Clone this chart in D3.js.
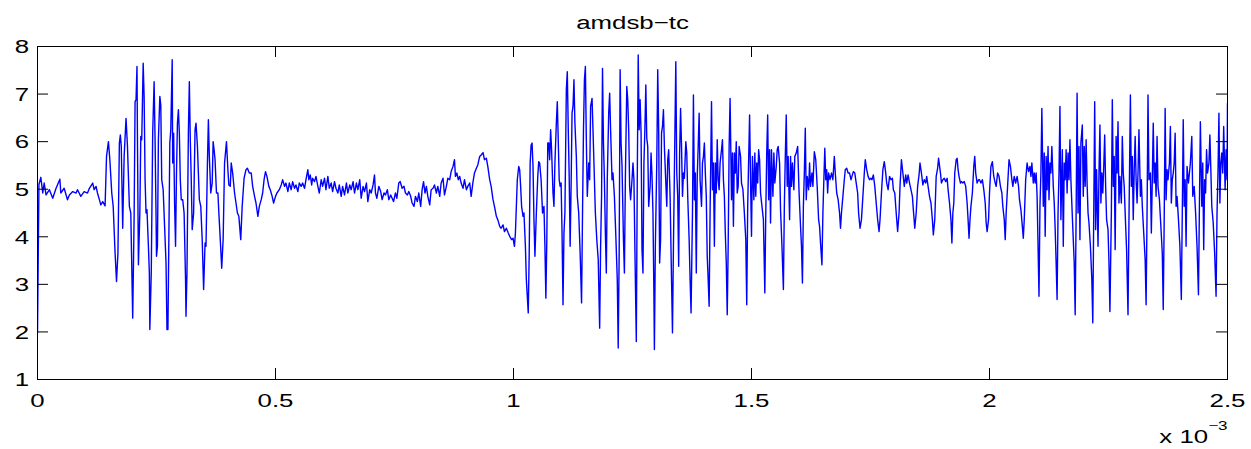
<!DOCTYPE html>
<html>
<head>
<meta charset="utf-8">
<script src="https://cdn.jsdelivr.net/npm/d3@7"></script>
<style>
  body { margin: 0; background: #fff; }
  svg { display: block; font-family: "Liberation Sans", Arial, Helvetica, sans-serif; }
  .tick line { stroke: #000; stroke-width: 1; }
</style>
</head>
<body>
<svg id="chart" width="1251" height="449"></svg>
<script>

/*    ========    DATA    =========    */

// time in units of 1e-3 s, amplitude
// onset burst and the quiet stretch before 0.63
var segOnset = [[0,1.98],[0.003,5.10],[0.007,5.25],[0.011,4.92],[0.014,5.13],[0.018,4.88],[0.025,4.99],[0.032,4.81],[0.039,5.02],[0.047,5.21],[0.049,4.92],[0.056,5.02],[0.063,4.78],[0.067,4.88],[0.074,4.95],[0.081,4.92],[0.084,4.99],[0.091,4.85],[0.098,4.95],[0.105,4.92],[0.109,5.02],[0.116,5.13],[0.119,4.99],[0.123,5.06],[0.126,4.92],[0.130,4.78],[0.133,4.67],[0.137,4.74],[0.142,4.65],[0.145,5.69],[0.149,6.00],[0.152,5.62],[0.156,4.92],[0.159,4.64],[0.163,3.66],[0.166,3.06],[0.169,3.66],[0.172,5.97],[0.174,6.14],[0.176,5.90],[0.179,4.18],[0.182,5.69],[0.186,6.49],[0.189,5.90],[0.193,4.64],[0.196,4.50],[0.200,2.29],[0.203,4.43],[0.205,6.84],[0.207,6.88],[0.209,7.58],[0.210,6.04],[0.212,3.41],[0.215,4.50],[0.217,6.11],[0.219,6.04],[0.222,7.65],[0.224,6.95],[0.226,5.20],[0.228,4.50],[0.230,4.57],[0.233,3.80],[0.235,3.24],[0.236,2.05],[0.239,3.24],[0.242,6.18],[0.245,7.26],[0.247,6.04],[0.249,4.50],[0.250,3.59],[0.252,3.80],[0.254,6.04],[0.257,6.95],[0.259,6.77],[0.261,5.20],[0.264,4.99],[0.267,4.22],[0.270,3.45],[0.272,2.05],[0.274,2.05],[0.276,4.01],[0.278,5.97],[0.280,6.25],[0.283,7.72],[0.284,5.55],[0.286,6.18],[0.288,4.71],[0.290,3.80],[0.292,5.34],[0.294,6.39],[0.296,6.67],[0.298,6.18],[0.300,5.20],[0.302,4.78],[0.305,4.78],[0.308,4.50],[0.311,3.10],[0.312,2.33],[0.314,3.24],[0.317,6.21],[0.319,7.26],[0.321,6.04],[0.323,5.20],[0.325,4.15],[0.328,4.50],[0.331,6.25],[0.333,6.39],[0.336,5.90],[0.340,4.78],[0.343,4.64],[0.346,3.94],[0.349,2.89],[0.352,3.87],[0.354,3.80],[0.357,5.55],[0.359,6.46],[0.361,5.69],[0.364,4.92],[0.367,5.13],[0.369,6.00],[0.371,5.83],[0.373,5.62],[0.376,4.92],[0.379,4.92],[0.381,4.50],[0.384,3.94],[0.387,3.34],[0.390,3.94],[0.393,5.55],[0.397,6.00],[0.400,5.41],[0.402,5.09],[0.405,5.06],[0.407,5.55],[0.410,5.34],[0.414,4.92],[0.417,4.71],[0.420,4.50],[0.423,4.43],[0.427,3.94],[0.430,4.64],[0.434,5.23],[0.438,5.41],[0.441,5.44],[0.445,5.34],[0.449,5.34],[0.452,5.06],[0.456,4.85],[0.459,4.71],[0.463,4.43],[0.466,4.64],[0.470,4.78],[0.473,4.92],[0.476,5.20],[0.479,5.37],[0.482,5.27],[0.486,5.06],[0.489,4.99],[0.493,4.85],[0.496,4.71],[0.500,4.85],[0.503,4.92],[0.508,4.99],[0.512,5.09],[0.515,5.20],[0.519,5.06],[0.522,5.13],[0.526,4.95],[0.529,5.13],[0.533,4.99],[0.536,5.16],[0.540,5.02],[0.543,5.09],[0.547,4.95],[0.550,5.13],[0.554,5.06],[0.557,5.13],[0.561,5.02],[0.564,5.20],[0.568,5.41],[0.570,5.20],[0.573,5.30],[0.576,5.09],[0.578,5.23],[0.582,5.16],[0.585,5.27],[0.589,5.06],[0.592,4.92],[0.596,5.20],[0.599,5.06],[0.603,5.23],[0.606,4.99],[0.610,5.27],[0.613,5.02],[0.617,5.13],[0.620,4.95],[0.624,5.16],[0.627,5.02]];

// quiet stretch, drift up to ~5.8, drop near 1.0, then strong voicing
var segRise = [[0.631,4.92],[0.634,5.09],[0.638,4.85],[0.641,5.06],[0.645,4.88],[0.649,5.13],[0.652,4.92],[0.656,5.09],[0.659,4.99],[0.663,5.16],[0.666,4.92],[0.670,5.13],[0.673,4.99],[0.677,5.20],[0.680,4.81],[0.684,5.06],[0.687,4.95],[0.691,5.13],[0.694,4.74],[0.698,4.99],[0.701,4.92],[0.705,5.09],[0.708,5.30],[0.710,4.92],[0.713,4.81],[0.717,5.06],[0.721,4.95],[0.724,4.78],[0.728,4.92],[0.731,4.88],[0.735,4.99],[0.738,4.78],[0.742,4.88],[0.745,4.81],[0.748,4.74],[0.752,4.92],[0.755,4.81],[0.759,5.13],[0.762,5.16],[0.766,5.02],[0.770,5.06],[0.773,4.92],[0.777,4.88],[0.780,4.95],[0.784,4.85],[0.787,4.71],[0.791,4.64],[0.794,4.85],[0.798,4.74],[0.801,4.92],[0.805,4.64],[0.808,4.99],[0.811,5.16],[0.814,4.92],[0.817,5.06],[0.820,4.85],[0.824,4.67],[0.827,4.99],[0.831,5.02],[0.834,5.09],[0.838,4.92],[0.841,5.06],[0.845,4.85],[0.848,5.13],[0.852,5.23],[0.855,4.88],[0.859,5.06],[0.862,5.23],[0.866,5.20],[0.869,5.37],[0.873,5.48],[0.876,5.62],[0.878,5.27],[0.881,5.34],[0.884,5.20],[0.887,5.27],[0.890,5.13],[0.894,5.02],[0.897,5.20],[0.901,4.99],[0.904,5.06],[0.908,5.13],[0.911,4.85],[0.915,5.16],[0.918,5.34],[0.922,5.44],[0.925,5.51],[0.929,5.69],[0.932,5.72],[0.936,5.77],[0.939,5.62],[0.943,5.65],[0.946,5.48],[0.950,5.20],[0.953,5.06],[0.957,4.78],[0.960,4.64],[0.964,4.43],[0.967,4.36],[0.971,4.22],[0.974,4.18],[0.978,4.25],[0.981,4.11],[0.985,4.18],[0.989,4.08],[0.992,4.01],[0.996,3.94],[0.999,3.97],[1.002,3.80],[1.004,4.08],[1.006,4.64],[1.008,5.20],[1.011,5.48],[1.013,5.41],[1.015,5.06],[1.017,4.64],[1.020,4.43],[1.022,4.50],[1.025,3.80],[1.027,3.10],[1.031,2.40],[1.033,3.66],[1.035,5.55],[1.037,5.93],[1.039,5.97],[1.041,5.48],[1.043,4.36],[1.045,3.59],[1.048,4.50],[1.051,5.27],[1.053,5.58],[1.055,5.55],[1.058,5.20],[1.061,4.50],[1.064,4.64],[1.066,3.80],[1.068,2.71],[1.070,3.94],[1.072,5.97],[1.074,5.97],[1.076,5.62],[1.078,6.25],[1.080,5.83],[1.083,4.92],[1.085,4.64],[1.087,5.55],[1.090,6.39],[1.092,6.84],[1.094,6.04],[1.096,5.20],[1.098,5.06],[1.100,5.13],[1.102,4.08],[1.104,2.57],[1.106,4.08],[1.108,4.50],[1.111,7.09],[1.113,7.47],[1.115,6.28],[1.117,5.27],[1.119,3.80],[1.121,5.06],[1.123,6.60],[1.125,6.74],[1.127,7.30],[1.129,6.39],[1.132,5.69],[1.134,4.85],[1.137,4.50],[1.140,3.66],[1.143,2.61],[1.145,4.50],[1.147,6.25],[1.149,7.30],[1.151,7.58],[1.153,6.04],[1.155,4.85],[1.158,5.55],[1.160,5.20],[1.162,6.74],[1.165,6.91],[1.167,6.25],[1.169,5.55],[1.172,4.50],[1.175,3.94],[1.178,3.52],[1.181,2.08],[1.183,3.80],[1.185,4.85],[1.187,7.54],[1.189,5.97],[1.191,5.20],[1.193,4.08],[1.195,3.24],[1.197,5.20],[1.200,6.60],[1.202,7.02],[1.204,6.25],[1.207,5.20],[1.209,5.34],[1.212,4.85],[1.215,4.01],[1.218,3.10],[1.220,1.66],[1.222,3.66],[1.224,7.51],[1.226,5.97],[1.228,5.48],[1.231,3.94],[1.233,3.24],[1.235,5.20],[1.238,7.16],[1.240,6.88],[1.242,6.25],[1.244,5.06],[1.246,4.78],[1.249,5.20],[1.251,5.55],[1.253,5.20],[1.256,3.10],[1.258,1.80],[1.260,5.20],[1.262,7.82]];

// strong voicing decaying into the regular ~5 pattern
var segDecay = [[1.264,6.25],[1.266,6.88],[1.268,6.18],[1.270,3.73],[1.272,3.24],[1.274,5.55],[1.276,6.25],[1.278,7.19],[1.280,6.07],[1.282,5.90],[1.284,4.64],[1.287,5.06],[1.289,5.76],[1.291,5.27],[1.293,4.50],[1.295,2.75],[1.296,1.63],[1.298,3.80],[1.301,5.55],[1.303,7.51],[1.305,6.25],[1.307,3.45],[1.309,3.94],[1.311,6.18],[1.313,6.32],[1.315,6.67],[1.317,5.90],[1.320,5.13],[1.322,4.64],[1.324,5.62],[1.326,5.83],[1.329,4.85],[1.331,3.66],[1.334,1.98],[1.336,3.80],[1.338,5.34],[1.341,7.68],[1.343,5.34],[1.345,4.85],[1.347,3.38],[1.349,5.76],[1.351,6.70],[1.353,5.90],[1.355,4.85],[1.357,5.34],[1.359,5.23],[1.362,6.00],[1.364,5.76],[1.366,4.85],[1.369,3.94],[1.371,3.10],[1.373,2.40],[1.376,4.50],[1.378,6.98],[1.380,4.78],[1.382,5.34],[1.384,3.24],[1.386,5.27],[1.388,5.90],[1.390,6.60],[1.392,5.20],[1.395,4.64],[1.397,5.55],[1.399,5.69],[1.401,5.97],[1.403,5.34],[1.405,4.85],[1.407,3.59],[1.409,3.10],[1.411,2.54],[1.413,4.50],[1.416,6.84],[1.418,4.99],[1.420,5.55],[1.422,3.80],[1.424,5.55],[1.426,4.92],[1.428,6.04],[1.430,5.20],[1.432,4.99],[1.434,5.55],[1.437,5.83],[1.439,6.04],[1.441,5.20],[1.443,4.85],[1.445,4.08],[1.447,3.45],[1.449,2.36],[1.451,3.80],[1.453,5.90],[1.455,6.91],[1.458,4.78],[1.460,5.76],[1.462,4.22],[1.464,5.76],[1.466,5.34],[1.468,6.00],[1.470,4.92],[1.472,5.06],[1.474,5.90],[1.477,5.69],[1.479,5.13],[1.482,4.99],[1.485,4.50],[1.488,3.94],[1.490,2.57],[1.492,4.64],[1.494,5.62],[1.496,6.56],[1.498,5.20],[1.500,4.01],[1.502,5.69],[1.505,4.78],[1.507,5.76],[1.509,4.85],[1.511,5.55],[1.513,5.13],[1.515,5.83],[1.517,5.62],[1.519,4.92],[1.522,4.64],[1.525,4.36],[1.528,2.82],[1.530,4.50],[1.532,5.76],[1.534,6.56],[1.536,4.78],[1.538,5.83],[1.540,4.29],[1.542,5.83],[1.545,4.85],[1.547,5.76],[1.549,5.13],[1.552,5.48],[1.554,5.83],[1.556,5.90],[1.559,5.55],[1.561,4.57],[1.564,3.80],[1.567,2.89],[1.569,4.64],[1.571,5.69],[1.573,6.56],[1.575,5.06],[1.577,5.69],[1.580,4.36],[1.582,5.69],[1.584,5.06],[1.586,5.55],[1.589,4.99],[1.591,5.69],[1.594,5.76],[1.597,5.90],[1.600,4.92],[1.603,4.22],[1.605,3.80],[1.607,3.03],[1.609,4.64],[1.611,5.34],[1.613,6.28],[1.615,4.78],[1.617,5.27],[1.620,4.99],[1.622,5.55],[1.624,5.06],[1.627,5.34],[1.629,5.06],[1.632,5.79],[1.635,5.62],[1.638,5.06],[1.641,4.36],[1.643,4.22],[1.645,3.87],[1.648,3.41],[1.650,4.50],[1.652,5.20],[1.654,5.86],[1.656,5.20],[1.658,5.41],[1.660,4.92],[1.662,5.34],[1.665,5.20],[1.668,5.34],[1.671,5.20],[1.674,5.69],[1.676,5.34],[1.679,4.92],[1.682,4.78],[1.685,4.50],[1.687,4.18],[1.689,4.50],[1.692,4.85],[1.695,5.20],[1.697,5.41],[1.700,5.44],[1.703,5.34],[1.706,5.34],[1.709,5.20],[1.711,5.27],[1.714,5.37],[1.717,5.34],[1.720,5.13],[1.723,4.92],[1.725,4.50],[1.728,4.18],[1.731,4.36],[1.734,4.85],[1.737,5.34],[1.739,5.62],[1.742,5.41],[1.745,5.27],[1.748,5.20],[1.751,5.23],[1.753,5.20],[1.756,5.30],[1.759,5.06],[1.762,4.71],[1.765,4.36],[1.768,4.11],[1.770,4.36],[1.773,4.92],[1.776,5.41],[1.779,5.58],[1.782,5.34],[1.784,5.13],[1.787,4.99],[1.790,5.27],[1.793,5.20],[1.796,5.23],[1.798,4.99],[1.801,4.92],[1.804,4.50],[1.807,4.11],[1.810,4.50],[1.812,5.06],[1.815,5.62],[1.818,5.34],[1.821,5.06],[1.824,5.30],[1.826,5.13],[1.829,5.30],[1.832,5.13],[1.835,4.99],[1.838,4.85],[1.840,4.57],[1.843,4.18],[1.846,4.50],[1.849,5.06],[1.852,5.30],[1.854,5.55],[1.857,5.34],[1.860,5.09],[1.863,5.20],[1.866,5.13],[1.868,5.27],[1.871,5.06],[1.874,4.85],[1.877,4.71],[1.880,4.36],[1.882,4.04],[1.885,4.36],[1.888,5.27],[1.891,5.44]];

// regular pattern, then the final noisy burst after 2.1
var segTail = [[1.893,5.65],[1.897,5.34],[1.899,5.13],[1.902,5.20],[1.905,5.23],[1.908,5.16],[1.911,5.23],[1.913,4.99],[1.916,4.71],[1.919,4.36],[1.921,3.87],[1.923,4.50],[1.925,4.71],[1.927,5.34],[1.930,5.62],[1.932,5.65],[1.934,5.41],[1.936,5.27],[1.939,5.13],[1.941,5.16],[1.944,5.13],[1.947,5.16],[1.950,5.06],[1.953,4.71],[1.955,4.36],[1.957,3.97],[1.959,4.36],[1.961,4.64],[1.964,4.92],[1.967,5.48],[1.969,5.69],[1.971,5.34],[1.974,5.13],[1.977,5.20],[1.979,5.20],[1.982,5.13],[1.985,5.20],[1.988,4.99],[1.991,4.71],[1.993,4.29],[1.995,4.11],[1.998,4.36],[2.000,4.92],[2.003,5.48],[2.006,5.58],[2.009,5.27],[2.012,5.13],[2.014,5.06],[2.017,5.34],[2.020,5.27],[2.023,5.06],[2.026,4.92],[2.028,4.64],[2.031,4.36],[2.033,3.94],[2.035,4.50],[2.038,5.06],[2.041,5.62],[2.044,5.48],[2.047,5.20],[2.049,5.06],[2.052,5.27],[2.055,5.13],[2.058,5.27],[2.061,5.06],[2.063,4.78],[2.066,4.57],[2.069,4.22],[2.071,3.97],[2.073,4.36],[2.076,5.20],[2.079,5.55],[2.082,5.37],[2.085,5.48],[2.087,5.27],[2.089,5.55],[2.092,5.13],[2.094,5.34],[2.096,5.13],[2.098,5.34],[2.100,4.85],[2.102,3.80],[2.104,2.75],[2.106,4.64],[2.108,5.34],[2.110,6.70],[2.113,4.64],[2.115,5.76],[2.117,4.01],[2.119,5.69],[2.121,4.99],[2.123,5.90],[2.125,4.78],[2.127,5.55],[2.129,5.34],[2.131,5.90],[2.134,5.06],[2.136,4.71],[2.138,4.15],[2.140,3.45],[2.142,2.68],[2.144,4.50],[2.146,5.34],[2.148,6.74],[2.150,4.36],[2.153,5.83],[2.155,3.80],[2.157,5.55],[2.159,5.20],[2.161,5.83],[2.163,4.92],[2.165,5.76],[2.167,5.20],[2.169,6.04],[2.171,5.20],[2.174,4.43],[2.176,3.94],[2.178,3.45],[2.180,2.36],[2.182,4.50],[2.184,7.02],[2.186,4.50],[2.188,5.90],[2.190,3.94],[2.192,5.97],[2.195,6.35],[2.197,4.85],[2.199,5.90],[2.201,5.06],[2.203,6.04],[2.205,5.13],[2.207,4.50],[2.209,4.29],[2.212,3.80],[2.215,3.10],[2.217,2.19],[2.219,4.50],[2.221,6.84],[2.223,4.15],[2.225,5.41],[2.228,3.80],[2.230,5.34],[2.232,6.35],[2.234,4.71],[2.236,5.34],[2.238,4.92],[2.240,5.48],[2.242,6.14],[2.244,5.06],[2.246,4.36],[2.249,4.15],[2.251,3.45],[2.253,2.43],[2.256,4.50],[2.258,6.88],[2.260,5.06],[2.262,5.69],[2.264,3.73],[2.266,6.11],[2.268,5.34],[2.270,6.42],[2.272,4.71],[2.274,5.27],[2.277,4.71],[2.279,6.11],[2.281,5.34],[2.283,5.06],[2.285,4.50],[2.288,3.73],[2.291,2.36],[2.293,4.36],[2.296,6.98],[2.298,5.06],[2.300,5.69],[2.302,4.36],[2.304,5.41],[2.306,6.11],[2.308,5.20],[2.310,4.71],[2.312,5.34],[2.314,6.25],[2.317,4.85],[2.319,5.20],[2.321,4.64],[2.324,4.08],[2.327,3.52],[2.329,2.57],[2.331,4.50],[2.333,6.98],[2.335,5.20],[2.338,5.34],[2.340,4.08],[2.342,5.20],[2.344,6.39],[2.346,5.13],[2.348,5.55],[2.350,4.85],[2.352,6.11],[2.354,5.06],[2.357,4.78],[2.360,4.22],[2.363,3.66],[2.365,2.47],[2.367,4.36],[2.369,6.70],[2.371,4.78],[2.373,5.41],[2.375,5.20],[2.378,5.55],[2.380,6.32],[2.382,4.71],[2.384,5.20],[2.386,5.34],[2.388,5.55],[2.390,6.18],[2.392,4.64],[2.394,4.85],[2.397,4.36],[2.400,3.80],[2.403,2.68],[2.405,4.50],[2.407,6.46],[2.409,4.64],[2.411,5.20],[2.413,3.80],[2.415,5.48],[2.418,5.13],[2.420,5.34],[2.422,5.55],[2.425,6.11],[2.427,4.85],[2.430,5.06],[2.433,4.50],[2.436,3.80],[2.439,2.78],[2.441,4.64],[2.443,6.42],[2.446,4.64],[2.448,5.55],[2.450,3.73],[2.452,5.20],[2.454,4.92],[2.456,5.83],[2.458,5.34],[2.461,5.55],[2.463,6.14],[2.465,5.41],[2.467,4.64],[2.470,4.29],[2.473,3.66],[2.476,2.75],[2.478,4.50],[2.480,5.34],[2.482,6.60],[2.484,4.71],[2.486,5.55],[2.488,5.76],[2.490,5.34],[2.492,6.32],[2.495,4.99],[2.497,5.83],[2.499,5.20],[2.500,6.81]];

var X_RANGE = [0, 2.5];          // x 10^-3
var Y_RANGE = [1, 8];
var X_TICKS = [0, 0.5, 1, 1.5, 2, 2.5];
var Y_TICKS = [1, 2, 3, 4, 5, 6, 7, 8];
var TITLE = "amdsb\u2212tc";

/*    ========    SETTINGS    =========    */

var svg = d3.select('#chart');

var PLOT_LEFT = 37, PLOT_TOP = 46;
var plotW = 1190, plotH = 333;
var TICK_LEN = 11;
var FONT_SIZE = 19;
var STRETCH = 1.36;   // the original figure was stretched sideways

var series = segOnset.concat(segRise, segDecay, segTail);

/*    ========    PLOT    =========    */

svg.append("rect")
    .attr("width", 1251).attr("height", 449)
    .attr("fill", "#fff");

var scale_x = d3.scaleLinear().domain(X_RANGE).range([0, plotW]);
var scale_y = d3.scaleLinear().domain(Y_RANGE).range([plotH, 0]);

var plot = svg.append("g")
    .attr("transform", "translate(" + PLOT_LEFT + "," + PLOT_TOP + ")");

svg.append("defs").append("clipPath")
    .attr("id", "mask")
    .append("rect")
    .attr("x", 0).attr("y", 0)
    .attr("width", plotW + 1).attr("height", plotH + 1);

// the trace
var line = d3.line()
    .x(function(d) { return scale_x(d[0]) + 0.5; })
    .y(function(d) { return scale_y(d[1]) + 0.5; });

plot.append("path")
    .datum(series)
    .attr("clip-path", "url(#mask)")
    .attr("fill", "none")
    .attr("stroke", "#0000ff")
    .attr("stroke-width", 1.4)
    .attr("stroke-linejoin", "round")
    .attr("d", line);

// == Axes, ticks pointing inward on all four sides == //
function tickAxis(axis) {
    return axis.tickSizeInner(-TICK_LEN).tickSizeOuter(0);
}

var gBottom = plot.append("g")
    .attr("transform", "translate(0," + plotH + ")")
    .call(tickAxis(d3.axisBottom(scale_x)).tickValues(X_TICKS).tickFormat(d3.format("~g")));

var gTop = plot.append("g")
    .call(tickAxis(d3.axisTop(scale_x)).tickValues(X_TICKS).tickFormat(""));

var gLeft = plot.append("g")
    .call(tickAxis(d3.axisLeft(scale_y)).tickValues(Y_TICKS).tickFormat(d3.format("d")));

var gRight = plot.append("g")
    .attr("transform", "translate(" + plotW + ",0)")
    .call(tickAxis(d3.axisRight(scale_y)).tickValues(Y_TICKS).tickFormat(""));

[gBottom, gTop, gLeft, gRight].forEach(function(g) {
    g.select(".domain").remove();
    g.attr("font-family", null).attr("font-size", null);
});

gBottom.selectAll("text")
    .attr("y", 28).attr("dy", null)
    .attr("fill", "#000")
    .style("font-size", FONT_SIZE + "px")
    .attr("transform", "scale(" + STRETCH + ",1)");

gLeft.selectAll("text")
    .attr("x", 0).attr("dy", "0.36em")
    .attr("text-anchor", "end")
    .attr("fill", "#000")
    .style("font-size", FONT_SIZE + "px")
    .attr("transform", "translate(-8,0) scale(" + STRETCH + ",1)");

// box
plot.append("rect")
    .attr("x", 0.5).attr("y", 0.5)
    .attr("width", plotW).attr("height", plotH)
    .attr("fill", "none")
    .attr("stroke", "#000")
    .attr("stroke-width", 1);

// == Title and exponent label == //
svg.append("text")
    .attr("transform", "translate(" + (PLOT_LEFT + plotW / 2 + 0.5) + ",29) scale(" + STRETCH + ",1)")
    .attr("text-anchor", "middle")
    .style("font-size", FONT_SIZE + "px")
    .text(TITLE);

var expo = svg.append("text")
    .attr("transform", "translate(" + (PLOT_LEFT + plotW + 0.5) + ",443) scale(" + STRETCH + ",1)")
    .attr("text-anchor", "end")
    .style("font-size", FONT_SIZE + "px");
expo.append("tspan").text("x 10");
expo.append("tspan")
    .attr("dy", -13)
    .style("font-size", "12.5px")
    .text("\u22123");

</script>
</body>
</html>
